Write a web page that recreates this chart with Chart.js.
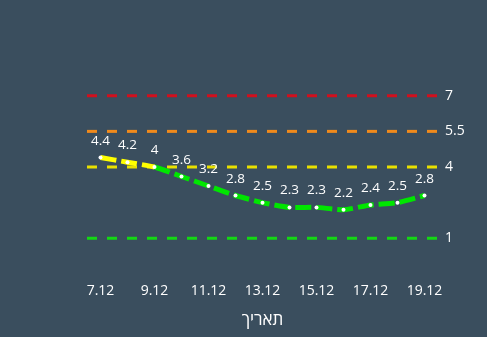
<!DOCTYPE html>
<html><head><meta charset="utf-8">
<script src="https://cdn.jsdelivr.net/npm/chart.js@4/dist/chart.umd.min.js"></script>
<style>html,body{margin:0;padding:0;background:#3a4e5e;}#wrap{width:487px;height:337px;}</style>
</head><body><div id="wrap"><canvas id="c" width="487" height="337"></canvas></div>
<script>
const dates = ['7.12','8.12','9.12','10.12','11.12','12.12','13.12','14.12','15.12','16.12','17.12','18.12','19.12'];
const values = [4.4, 4.2, 4, 3.6, 3.2, 2.8, 2.5, 2.3, 2.3, 2.2, 2.4, 2.5, 2.8];
const thresholds = [7, 5.5, 4, 1];
const thresholdColors = ['#d0101e', '#f08a1c', '#e8e000', '#14d814'];
const axisTitle = 'תאריך';

const FONT = "'Open Sans', 'DejaVu Sans', sans-serif";

const thresholdPlugin = {
  id: 'thresholds',
  beforeDatasetsDraw(chart) {
    const ctx = chart.ctx;
    const area = chart.chartArea;
    const y = chart.scales.y;
    ctx.save();
    ctx.lineWidth = 3;
    ctx.setLineDash([10, 10]);
    thresholds.forEach((t, i) => {
      const py = y.getPixelForValue(t);
      ctx.strokeStyle = thresholdColors[i];
      ctx.beginPath();
      ctx.moveTo(area.left, py);
      ctx.lineTo(area.right, py);
      ctx.stroke();
    });
    ctx.restore();
  }
};

const labelsPlugin = {
  id: 'labels',
  afterDatasetsDraw(chart) {
    const ctx = chart.ctx;
    const area = chart.chartArea;
    const y = chart.scales.y;
    ctx.save();
    ctx.fillStyle = '#ffffff';
    ctx.textBaseline = 'middle';
    ctx.textAlign = 'left';
    ctx.font = "14px " + FONT;
    thresholds.forEach(t => {
      ctx.fillText(String(t), area.right + 7, y.getPixelForValue(t));
    });
    const meta = chart.getDatasetMeta(0);
    ctx.font = "13.5px " + FONT;
    ctx.textAlign = 'center';
    ctx.textBaseline = 'alphabetic';
    meta.data.forEach((pt, i) => {
      ctx.fillText(String(values[i]), pt.x, pt.y - 13);
    });
    ctx.restore();
  }
};

new Chart(document.getElementById('c'), {
  type: 'line',
  data: {
    labels: dates,
    datasets: [{
      data: values,
      borderWidth: 5,
      borderDash: [16, 5],
      borderColor: '#00e600',
      segment: {
        borderColor: c => c.p0.parsed.y > 4 ? '#ffff00' : '#00e600'
      },
      tension: 0.2,
      pointRadius: 2,
      pointBorderWidth: 0,
      pointBackgroundColor: '#ffffff',
      fill: false
    }]
  },
  options: {
    responsive: false,
    animation: false,
    devicePixelRatio: 1,
    layout: { padding: { left: 87, right: 49, top: 72, bottom: 0 } },
    plugins: { legend: { display: false }, tooltip: { enabled: false } },
    scales: {
      x: {
        offset: true,
        grid: { display: false, drawTicks: false },
        border: { display: false },
        ticks: {
          color: '#ffffff',
          font: { size: 14, family: FONT },
          padding: 21,
          autoSkip: false,
          maxRotation: 0,
          callback: function(v, i) { return i % 2 === 0 ? dates[i] : ''; }
        },
        title: {
          display: true,
          text: axisTitle,
          color: '#ffffff',
          font: { size: 17, family: FONT },
          padding: { top: 4, bottom: 7 }
        },
        afterFit: s => { s.height = 75; }
      },
      y: { display: false, min: 0, max: 8 }
    }
  },
  plugins: [thresholdPlugin, labelsPlugin]
});
</script>
</body></html>
